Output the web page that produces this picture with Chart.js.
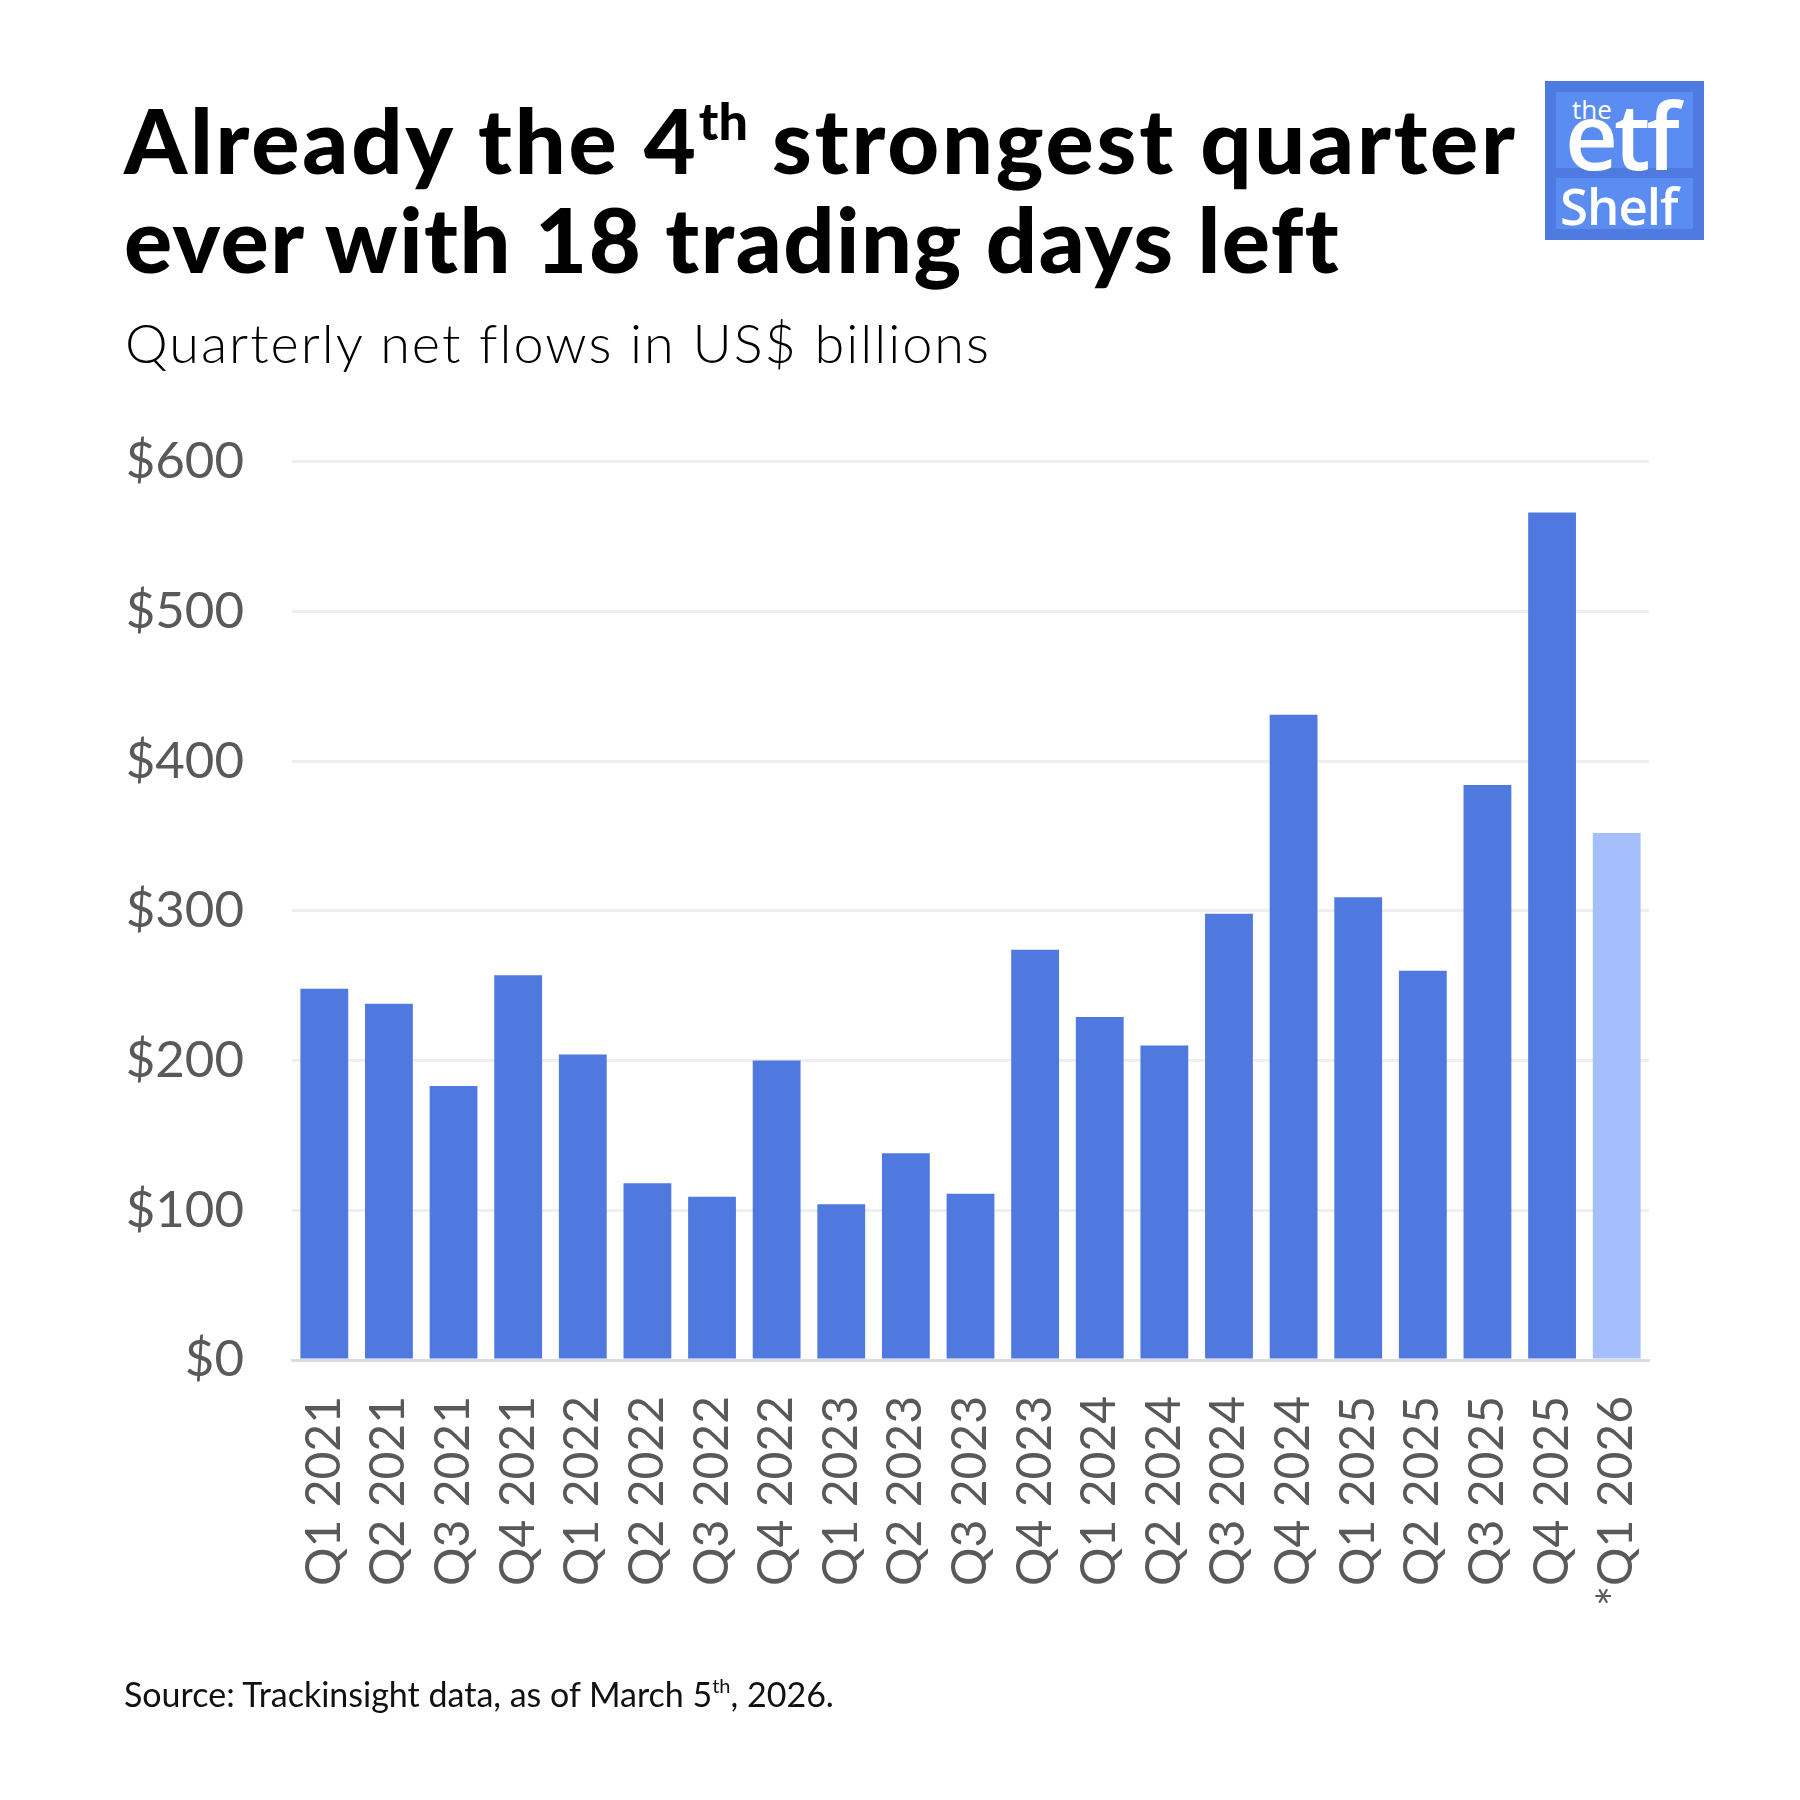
<!DOCTYPE html>
<html>
<head>
<meta charset="utf-8">
<script src="https://cdn.jsdelivr.net/npm/chart.js@4"></script>
<style>
  body { margin: 0; background: #fff; }
  .page { position: relative; width: 1800px; height: 1800px; background: #fff; overflow: hidden; font-family: 'Lato', sans-serif; }
  .title { position: absolute; left: 124px; top: 90px; font-weight: 900; font-size: 90px; line-height: 99px; color: #000; }
  .title .l1 { letter-spacing: 2.8px; }
  .title .l2 { letter-spacing: 1.5px; }
  .title sup { font-size: 52px; line-height: 0; vertical-align: 0; position: relative; top: -34px; letter-spacing: 0; }
  .subtitle { position: absolute; left: 125px; top: 310px; font-weight: 300; font-size: 54px; color: #000; letter-spacing: 2px; }
  .source { position: absolute; left: 124px; top: 1673px; font-size: 34px; font-weight: 400; color: #111; }
  .source sup { font-size: 20px; line-height: 0; vertical-align: 0; position: relative; top: -14px; }
  .logo { position: absolute; left: 1545px; top: 81px; width: 159px; height: 159px; background: #4f7be0; }
  .logo .top { position: absolute; left: 11px; top: 11px; width: 137px; height: 76px; background: #5b8cf1; }
  .logo .bot { position: absolute; left: 11px; top: 97px; width: 137px; height: 51px; background: #5b8cf1; }
  .logo span { position: absolute; color: #fff; font-family: 'Open Sans', sans-serif; }
  .chartbox { position: absolute; left: 0; top: 383px; width: 1800px; height: 1317px; }
</style>
</head>
<body>
<div class="page">
  <div class="title"><span class="l1">Already the 4<sup>th</sup> strongest quarter</span><br><span class="l2">ever with 18 trading days left</span></div>
  <div class="subtitle">Quarterly net flows in US$ billions</div>
  <div class="logo">
    <div class="top"></div>
    <div class="bot"></div>
    <span style="left:27px;top:10px;font-size:26px;">the</span>
    <span style="left:20px;top:8px;font-size:92px;line-height:92px;font-weight:600;letter-spacing:-4px;">etf</span>
    <span style="left:15px;top:96px;font-size:51px;line-height:56px;font-weight:600;letter-spacing:-1px;">Shelf</span>
  </div>
  <div class="chartbox"><canvas id="flowsChart"></canvas></div>
  <div class="source">Source: Trackinsight data, as of March 5<sup>th</sup>, 2026.</div>
</div>
<script>
var quarters = ['Q1 2021', 'Q2 2021', 'Q3 2021', 'Q4 2021', 'Q1 2022', 'Q2 2022', 'Q3 2022', 'Q4 2022',
    'Q1 2023', 'Q2 2023', 'Q3 2023', 'Q4 2023', 'Q1 2024', 'Q2 2024', 'Q3 2024', 'Q4 2024',
    'Q1 2025', 'Q2 2025', 'Q3 2025', 'Q4 2025', '*Q1 2026']
var netFlows = [248, 238, 183, 257, 204, 118, 109, 200, 104, 138, 111, 274, 229, 210, 298, 431, 309, 260, 384, 566, 352]
var yTicks = [0, 100, 200, 300, 400, 500, 600]

var barColors = []
for (var i = 0; i < netFlows.length; i++) {
    if (quarters[i].charAt(0) == '*') {
        barColors.push('#a5befc')
    }
    else {
        barColors.push('#4f79df')
    }
}

var flowsChart = new Chart(document.getElementById('flowsChart'), {
    type: 'bar',
    data: {
        labels: quarters,
        datasets: [
            {
                label: 'Net flows',
                data: netFlows,
                backgroundColor: barColors,
                categoryPercentage: 1,
                barPercentage: 0.74,
            }
        ]
    },
    options: {
        responsive: true,
        maintainAspectRatio: false,
        animation: false,
        layout: { padding: { left: 0, right: 151, top: 44, bottom: 0 } },
        plugins: { legend: { display: false }, tooltip: { enabled: false } },
        scales: {
            x: {
                grid: { display: false, drawTicks: false },
                border: { color: '#d9dce4', width: 3 },
                ticks: {
                    color: '#595959',
                    font: { family: 'Lato', size: 48 },
                    minRotation: 90,
                    maxRotation: 90,
                    padding: 36,
                    autoSkip: false,
                },
                afterFit: function (scale) { scale.height = 340 },
            },
            y: {
                min: 0,
                max: 600,
                afterBuildTicks: function (scale) { scale.ticks = yTicks.map(v => ({ value: v })) },
                grid: { color: '#efefef', lineWidth: 3, drawTicks: false },
                border: { display: false },
                ticks: {
                    color: '#595959',
                    font: { family: 'Lato', size: 51 },
                    padding: 48,
                    callback: function (v) { return '$' + v },
                },
                afterFit: function (scale) { scale.width = 292 },
            }
        }
    },
});
</script>
</body>
</html>
